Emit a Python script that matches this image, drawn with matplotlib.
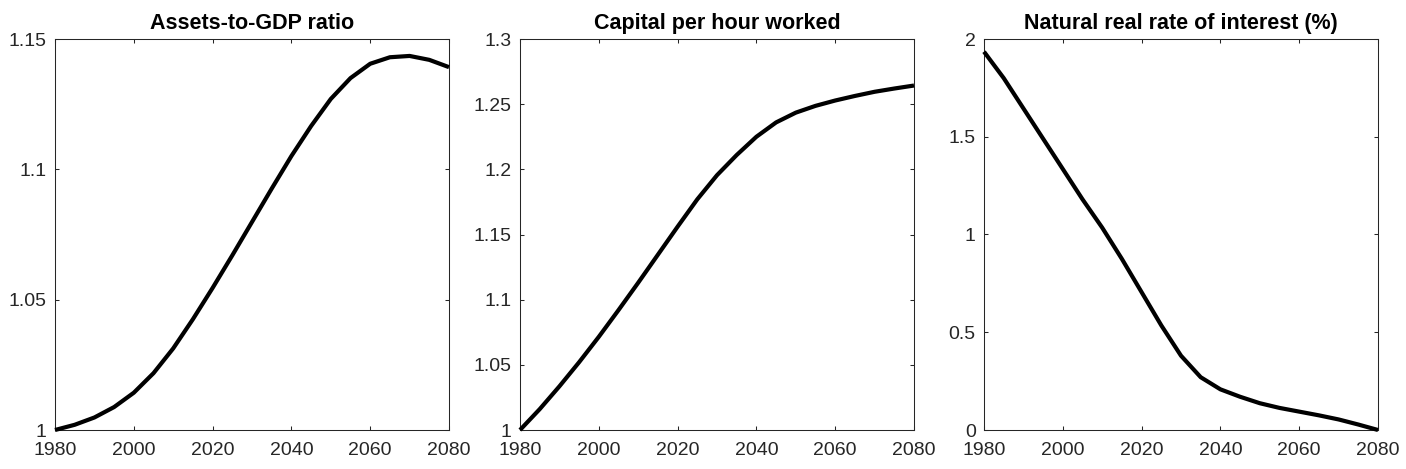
import numpy as np
import matplotlib.pyplot as plt
from matplotlib.ticker import FormatStrFormatter

plt.rcParams['font.family'] = ['Liberation Sans', 'DejaVu Sans']

years = [1980, 1985, 1990, 1995, 2000, 2005, 2010, 2015, 2020, 2025, 2030,
         2035, 2040, 2045, 2050, 2055, 2060, 2065, 2070, 2075, 2080]

assets_gdp = [1.000, 1.002, 1.0048, 1.0088, 1.0143, 1.0218, 1.0313, 1.0425,
              1.0545, 1.0670, 1.0798, 1.0926, 1.1051, 1.1166, 1.1270, 1.1350,
              1.1405, 1.1430, 1.1435, 1.1420, 1.1392]

capital_hour = [1.000, 1.016, 1.0335, 1.052, 1.0715, 1.092, 1.113, 1.1345,
                1.156, 1.177, 1.1955, 1.211, 1.225, 1.236, 1.2435, 1.2487,
                1.2528, 1.2563, 1.2595, 1.2620, 1.2643]

real_rate = [1.935, 1.80, 1.645, 1.49, 1.335, 1.18, 1.035, 0.875, 0.705, 0.535,
             0.38, 0.27, 0.208, 0.17, 0.137, 0.113, 0.094, 0.075, 0.054, 0.028, 0.0]

titles = ['Assets-to-GDP ratio', 'Capital per hour worked',
          'Natural real rate of interest (%)']
series = [assets_gdp, capital_hour, real_rate]
ylims = [(1, 1.15), (1, 1.3), (0, 2)]
yticks = [[1, 1.05, 1.1, 1.15],
          [1, 1.05, 1.1, 1.15, 1.2, 1.25, 1.3],
          [0, 0.5, 1, 1.5, 2]]
xticks = [1980, 2000, 2020, 2040, 2060, 2080]

W, H = 1406, 469
fig = plt.figure(figsize=(W / 100, H / 100), dpi=100)

lefts = [55, 520, 984]
for i in range(3):
    ax = fig.add_axes([lefts[i] / W, (H - 430) / H, 394 / W, 391 / H])
    ax.plot(years, series[i], color='black', lw=3, clip_on=False,
            solid_capstyle='butt', solid_joinstyle='round', zorder=3)
    ax.set_xlim(1980, 2080)
    ax.set_ylim(*ylims[i])
    ax.set_xticks(xticks)
    ax.set_yticks(yticks[i])
    ax.yaxis.set_major_formatter(FormatStrFormatter('%g'))
    ax.tick_params(direction='in', top=True, right=True, length=3, width=0.75,
                   color='#262626', labelcolor='#262626', labelsize=14)
    ax.tick_params(axis='y', pad=6)
    ax.tick_params(axis='x', pad=8.5)
    for s in ax.spines.values():
        s.set_color('#262626')
        s.set_linewidth(0.75)
    ax.set_title(titles[i], fontsize=15.5, fontweight='bold', pad=7)

plt.savefig('out.png', dpi=100)
